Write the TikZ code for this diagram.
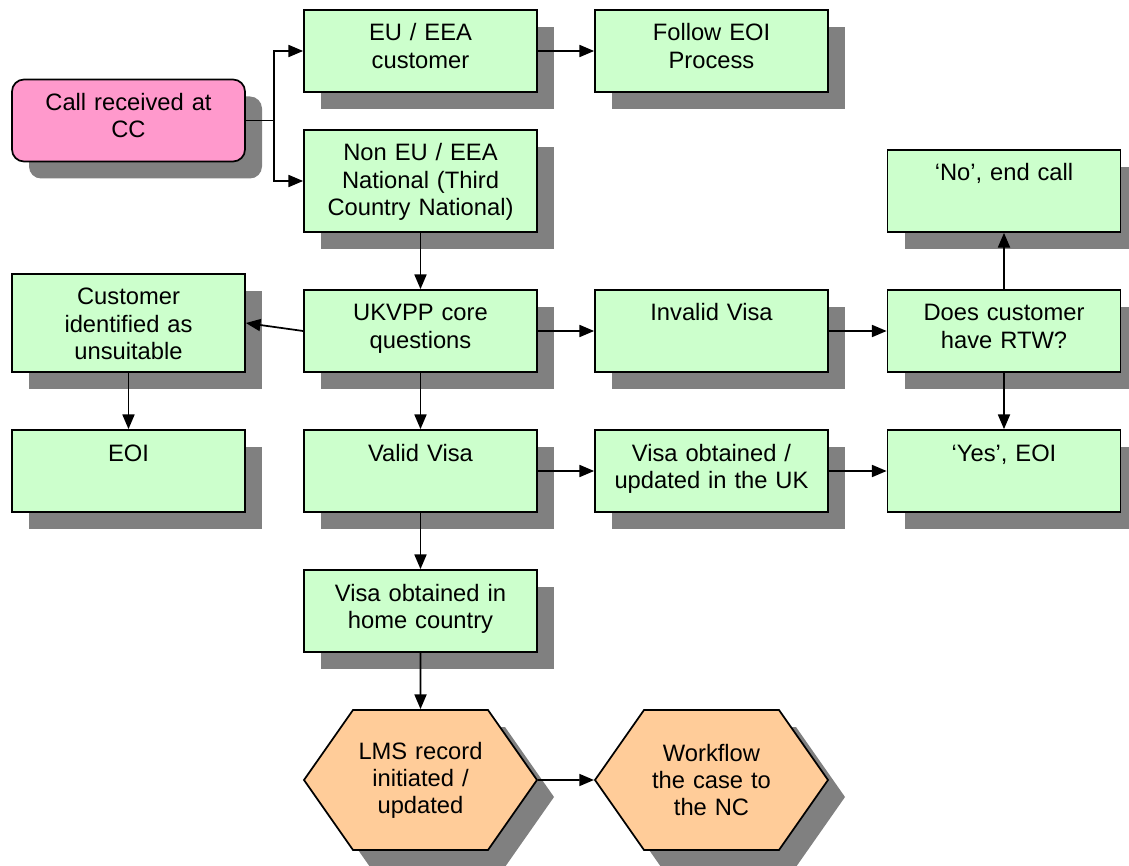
\documentclass[tikz,border=0pt]{standalone}
\usepackage{fontspec}
\setmainfont{Liberation Sans}
\usetikzlibrary{arrows.meta,shadows,shapes.symbols}

\definecolor{boxgreen}{HTML}{CCFFCC}
\definecolor{callpink}{HTML}{FF99CC}
\definecolor{hexorange}{HTML}{FFCC99}
\definecolor{shadowgrey}{HTML}{808080}

\tikzset{
  grey shadow/.style={drop shadow={shadow xshift=12.75pt, shadow yshift=-12.75pt,
      fill=shadowgrey, opacity=1}},
  box/.style={rectangle, draw, line width=1.3pt, fill=boxgreen, grey shadow,
      minimum width=174.75pt, minimum height=61.5pt, text width=165pt, align=center,
      inner sep=0pt, text height=23.25pt, text depth=38.25pt},
  tall box/.style={box, minimum height=76.5pt, text depth=53.25pt},
  hexbox/.style={signal, signal to=west and east, signal pointer angle=110, draw,
      line width=1.3pt, fill=hexorange, grey shadow, minimum width=174.75pt,
      minimum height=105pt, text width=100pt, align=center, inner sep=0pt},
  flow/.style={-{Triangle[length=11pt,width=9pt]}, line width=1.3pt},
}

\begin{document}
\begin{tikzpicture}[x=0.75pt, y=-0.75pt, font=\fontsize{17.8}{20.3}\selectfont]
    \useasboundingbox (0,0) rectangle (1129,866);

    % first column
    \node[box, fill=callpink, rounded corners=9pt] (call) at (128.5,120.5) {Call received at\\CC};
    \node[box, minimum height=73.5pt, text depth=50.25pt] (unsuit) at (128.5,323) {Customer\\identified as\\unsuitable};
    \node[box] (eoi) at (128.5,471) {EOI};

    % second column
    \node[box] (eu) at (420.5,51) {EU / EEA\\customer};
    \node[tall box] (noneu) at (420.5,181) {Non EU / EEA\\National (Third\\Country National)};
    \node[box] (ukvpp) at (420.5,331) {UKVPP core\\questions};
    \node[box] (valid) at (420.5,471) {Valid Visa};
    \node[box] (home) at (420.5,611) {Visa obtained in\\home country};
    \node[hexbox] (lms) at (420.5,780) {LMS record\\initiated~/\\updated};

    % third column
    \node[box] (eoiproc) at (711.5,51) {Follow EOI\\Process};
    \node[box] (invalid) at (711.5,331) {Invalid Visa};
    \node[box] (updated) at (711.5,471) {Visa obtained /\\updated in the UK};
    \node[hexbox] (workflow) at (711.5,780) {Workflow\\the case to\\the NC};

    % fourth column
    \node[box] (noend) at (1004,191) {‘No’, end call};
    \node[box] (rtw) at (1004,331) {Does customer\\have RTW?};
    \node[box] (yes) at (1004,471) {‘Yes’, EOI};

    % connectors
    \draw[flow] (call.east) -- ++(28,0) coordinate (fork) |- (eu.west);
    \draw[flow] (fork) |- (noneu.west);
    \draw[flow] (eu) -- (eoiproc);
    \draw[flow] (noneu) -- (ukvpp);
    \draw[flow] (ukvpp.west) -- (unsuit.east);
    \draw[flow] (unsuit) -- (eoi);
    \draw[flow] (ukvpp) -- (invalid);
    \draw[flow] (invalid) -- (rtw);
    \draw[flow] (rtw) -- (noend);
    \draw[flow] (rtw) -- (yes);
    \draw[flow] (ukvpp) -- (valid);
    \draw[flow] (valid) -- (updated);
    \draw[flow] (updated) -- (yes);
    \draw[flow] (valid) -- (home);
    \draw[flow] (home) -- (lms);
    \draw[flow] (lms) -- (workflow);
\end{tikzpicture}
\end{document}
